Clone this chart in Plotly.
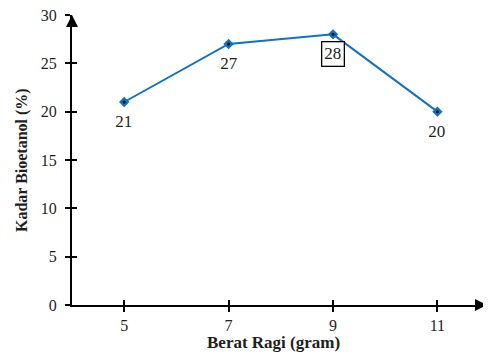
import plotly.graph_objects as go

berat_ragi = [5, 7, 9, 11]
kadar_bioetanol = [21, 27, 28, 20]
x_ticks = [5, 7, 9, 11]
y_ticks = [0, 5, 10, 15, 20, 25, 30]

FONT = "Liberation Serif"
BLUE = "#0f72c4"
TXT = "#1e1e1e"

fig = go.Figure()
fig.add_trace(go.Scatter(
    x=berat_ragi, y=kadar_bioetanol, mode="lines+markers",
    line=dict(color=BLUE, width=2),
    marker=dict(symbol="diamond", size=8, color=BLUE),
    showlegend=False, hoverinfo="skip", cliponaxis=False))
fig.add_trace(go.Scatter(
    x=berat_ragi, y=kadar_bioetanol, mode="markers",
    marker=dict(symbol="circle", size=3, color="black"),
    showlegend=False, hoverinfo="skip", cliponaxis=False))

for xv, yv in zip(berat_ragi, kadar_bioetanol):
    boxed = (yv == max(kadar_bioetanol))
    fig.add_annotation(
        x=xv, y=yv, xref="x", yref="y", text=str(yv), showarrow=False,
        yanchor="top", yshift=-7 if not boxed else -7,
        font=dict(family=FONT, size=17, color=TXT),
        bordercolor="black" if boxed else "rgba(0,0,0,0)", borderwidth=1.3,
        borderpad=2, bgcolor="white" if boxed else "rgba(0,0,0,0)")

# axis arrows
fig.add_annotation(x=11.95, y=0, xref="x", yref="y", ax=-12, ay=0,
                   axref="pixel", ayref="pixel", showarrow=True, text="",
                   arrowhead=2, arrowsize=1.2, arrowwidth=2, arrowcolor="black")
fig.add_annotation(x=4, y=30, xref="x", yref="y", ax=0, ay=12,
                   axref="pixel", ayref="pixel", showarrow=True, text="",
                   arrowhead=2, arrowsize=1.2, arrowwidth=2, arrowcolor="black")

# axis titles
fig.add_annotation(x=0.5, y=0, xref="paper", yref="paper", xshift=-6, yshift=-37,
                   text="<b>Berat Ragi (gram)</b>", showarrow=False,
                   xanchor="center", yanchor="middle",
                   font=dict(family=FONT, size=17, color=TXT))
fig.add_annotation(x=0, y=0.5, xref="paper", yref="paper", xshift=-50,
                   text="<b>Kadar Bioetanol (%)</b>", showarrow=False, textangle=-90,
                   xanchor="center", yanchor="middle",
                   font=dict(family=FONT, size=16, color=TXT))

common_x = dict(range=[4, 11.95], tickvals=x_ticks, showgrid=False, zeroline=False,
                showline=True, linecolor="black", linewidth=2, tickcolor="black",
                tickwidth=2, ticklen=5, automargin=False)
common_y = dict(range=[0, 30], tickvals=y_ticks, showgrid=False, zeroline=False,
                showline=True, linecolor="black", linewidth=2, tickcolor="black",
                tickwidth=2, ticklen=5, automargin=False)

fig.update_layout(
    width=483, height=345, plot_bgcolor="white", paper_bgcolor="white",
    margin=dict(l=64, r=4, t=7, b=48, autoexpand=False),
    font=dict(family=FONT, size=16, color=TXT),
    xaxis=dict(**common_x, ticks="outside", ticklabelstandoff=0,
               tickfont=dict(family=FONT, size=16, color=TXT)),
    yaxis=dict(**common_y, ticks="outside", ticklabelstandoff=5,
               ticklabeloverflow="allow",
               tickfont=dict(family=FONT, size=16, color=TXT)),
    xaxis2=dict(**common_x, ticks="inside", overlaying="x", side="bottom",
                showticklabels=False, anchor="y"),
    yaxis2=dict(**common_y, ticks="inside", overlaying="y", side="left",
                showticklabels=False, anchor="x"),
)
fig.add_trace(go.Scatter(x=[None], y=[None], xaxis="x2", yaxis="y2",
                         showlegend=False, hoverinfo="skip"))

fig.write_html("out.html")
